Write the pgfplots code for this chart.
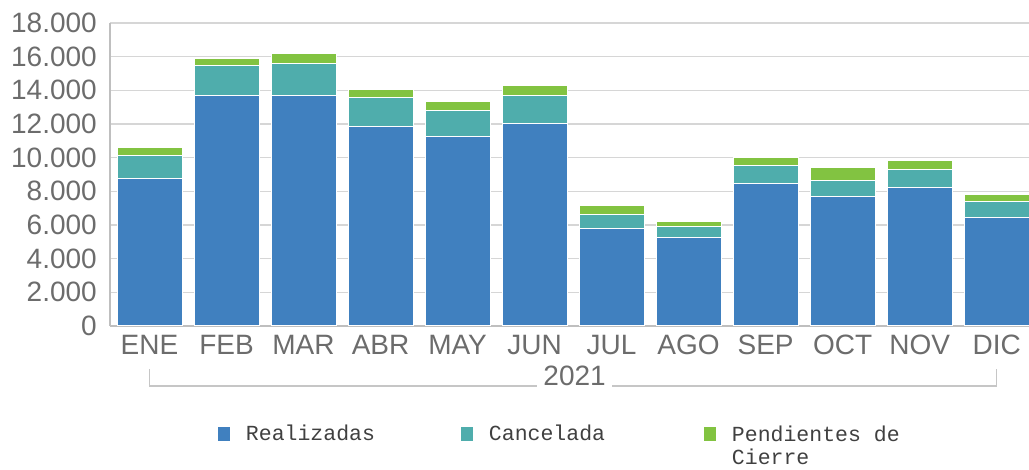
\documentclass[border=0pt]{standalone}
\usepackage{pgfplots}
\pgfplotsset{compat=1.18}
\usepackage{fontspec}
\setmainfont{Liberation Sans}
\newfontfamily\legfont{Liberation Mono}
\definecolor{cReal}{RGB}{64,128,191}
\definecolor{cCanc}{RGB}{79,173,172}
\definecolor{cPend}{RGB}{130,195,65}
\definecolor{tickgray}{RGB}{108,108,108}
\definecolor{leggray}{RGB}{64,64,64}
\definecolor{gridgray}{RGB}{214,214,214}
\definecolor{axgray}{RGB}{191,191,191}
\begin{document}
\begin{tikzpicture}
\useasboundingbox (-110pt,-144pt) rectangle (919pt,326pt);
\begin{axis}[
  at={(0pt,0pt)}, anchor=south west,
  width=919pt, height=303pt, scale only axis,
  ybar stacked, bar width=65pt,
  xmin=-0.513, xmax=11.42, ymin=0, ymax=18000,
  xtick={0,...,11},
  xticklabels={ENE,FEB,MAR,ABR,MAY,JUN,JUL,AGO,SEP,OCT,NOV,DIC},
  ytick={0,2000,...,18000},
  ymajorgrids, grid style={gridgray, line width=1.5pt},
  axis lines*=left, axis line style={axgray, line width=2pt, -},
  major tick length=0pt,
  tick label style={text=tickgray, font=\fontsize{28}{30}\selectfont},
  yticklabel style={inner sep=0pt, anchor=east, xshift=-13pt,
    /pgf/number format/.cd, 1000 sep={.}, assume math mode=true},
  scaled y ticks=false,
  xticklabel style={inner sep=0pt, anchor=base, yshift=-29pt},
  every axis plot/.append style={draw=white, line width=1pt},
  legend style={draw=none, fill=none, inner sep=0pt, outer sep=0pt,
    at={(axis description cs:0.1175,-0.327)}, anchor=north west,
    legend columns=3, text=leggray,
    font=\legfont\fontsize{21.5}{23}\selectfont,
    nodes={inner sep=0pt},
    /tikz/every odd column/.append style={column sep=16pt},
    /tikz/every even column/.append style={column sep=0pt}},
  legend image code/.code={\fill[#1, draw=none] (0pt,-7pt) rectangle (12pt,7pt);},
  clip mode=individual,
]
\addplot[fill=cReal] coordinates {(0,8780) (1,13670) (2,13670) (3,11880) (4,11250) (5,12000) (6,5800) (7,5230) (8,8440) (9,7720) (10,8200) (11,6420)};
\addplot[fill=cCanc] coordinates {(0,1320) (1,1780) (2,1900) (3,1670) (4,1570) (5,1670) (6,840) (7,710) (8,1070) (9,950) (10,1070) (11,950)};
\addplot[fill=cPend] coordinates {(0,480) (1,470) (2,590) (3,470) (4,490) (5,590) (6,490) (7,260) (8,470) (9,720) (10,590) (11,470)};
\legend{\makebox[215pt][l]{Realizadas},\makebox[215pt][l]{Cancelada},{\begin{tabular}[t]{@{}l@{}}Pendientes de\\Cierre\end{tabular}}}
\coordinate (BL) at (axis cs:0,0);
\coordinate (BR) at (axis cs:11,0);
\coordinate (BM) at (axis cs:5.52,0);
\end{axis}
\draw[gray!45, line width=1.3pt] ([yshift=-43pt]BL) -- ([yshift=-60pt]BL) -- ([yshift=-60pt]BR) -- ([yshift=-43pt]BR);
\node[fill=white, text=tickgray, font=\fontsize{28}{30}\selectfont, inner xsep=6pt, inner ysep=4pt, anchor=base] at ([yshift=-60pt]BM) {2021};
\end{tikzpicture}
\end{document}
